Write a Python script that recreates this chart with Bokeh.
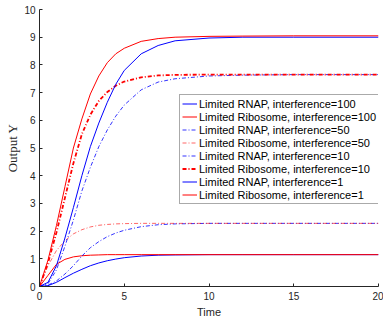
from bokeh.plotting import figure
from bokeh.models import Legend, LegendItem, FixedTicker, Range1d
from bokeh.embed import file_html
from bokeh.resources import INLINE

# time samples
t = [0, 0.5, 1, 1.5, 2, 2.5, 3, 3.5, 4, 4.5, 5, 6, 7, 8, 10, 12, 15, 20]

# interference = 100
rnap_100 = [0, 0.03, 0.15, 0.32, 0.48, 0.62, 0.75, 0.85, 0.93, 0.99, 1.04, 1.10, 1.13, 1.14, 1.15, 1.15, 1.15, 1.15]
ribo_100 = [0, 0.40, 0.80, 0.98, 1.07, 1.11, 1.13, 1.14, 1.15, 1.15, 1.15, 1.15, 1.15, 1.15, 1.15, 1.15, 1.15, 1.15]
# interference = 50
rnap_50 = [0, 0.05, 0.20, 0.45, 0.75, 1.10, 1.40, 1.62, 1.80, 1.93, 2.03, 2.16, 2.23, 2.26, 2.28, 2.28, 2.28, 2.28]
ribo_50 = [0, 0.75, 1.30, 1.65, 1.90, 2.05, 2.15, 2.21, 2.24, 2.26, 2.27, 2.28, 2.28, 2.28, 2.28, 2.28, 2.28, 2.28]
# interference = 10
rnap_10 = [0, 0.10, 0.60, 1.45, 2.40, 3.45, 4.30, 5.05, 5.65, 6.15, 6.55, 7.10, 7.38, 7.50, 7.60, 7.63, 7.65, 7.65]
ribo_10 = [0, 0.85, 1.95, 3.20, 4.45, 5.50, 6.20, 6.70, 7.02, 7.25, 7.40, 7.55, 7.62, 7.64, 7.65, 7.65, 7.65, 7.65]
# interference = 1
rnap_1 = [0, 0.15, 0.75, 1.75, 2.85, 4.00, 5.05, 5.90, 6.65, 7.30, 7.80, 8.40, 8.70, 8.87, 8.97, 9.00, 9.00, 9.00]
ribo_1 = [0, 0.95, 2.20, 3.60, 5.00, 6.05, 6.95, 7.60, 8.08, 8.40, 8.60, 8.85, 8.95, 9.00, 9.03, 9.04, 9.05, 9.05]

labels = [
    "Limited RNAP, interference=100",
    "Limited Ribosome, interference=100",
    "Limited RNAP, interference=50",
    "Limited Ribosome, interference=50",
    "Limited RNAP, interference=10",
    "Limited Ribosome, interference=10",
    "Limited RNAP, interference=1",
    "Limited Ribosome, interference=1",
]
x_ticks = [0, 5, 10, 15, 20]
y_ticks = [0, 1, 2, 3, 4, 5, 6, 7, 8, 9, 10]

p = figure(width=383, height=317, output_backend="svg", toolbar_location=None,
           x_range=Range1d(0, 20), y_range=Range1d(0, 10),
           min_border_left=39, min_border_right=5, min_border_top=5, min_border_bottom=35,
           styles={"margin-left": "0px", "margin-top": "4px"})
p.outline_line_color = None
p.grid.visible = False
p.background_fill_color = "white"
p.border_fill_color = "white"

ax_col = "#262626"
for ax in (p.xaxis, p.yaxis):
    ax.axis_line_color = ax_col
    ax.major_tick_line_color = ax_col
    ax.major_tick_in = 3
    ax.major_tick_out = 0
    ax.minor_tick_in = 0
    ax.minor_tick_out = 0
    ax.major_label_text_font = "Liberation Sans"
    ax.major_label_text_font_size = "10px"
    ax.major_label_text_color = ax_col
p.xaxis.ticker = FixedTicker(ticks=x_ticks)
p.yaxis.ticker = FixedTicker(ticks=y_ticks)
p.xaxis.major_label_standoff = 5
p.yaxis.major_label_standoff = 4
p.xaxis.axis_label = "Time"
p.xaxis.axis_label_text_font = "Liberation Sans"
p.xaxis.axis_label_text_font_size = "11px"
p.xaxis.axis_label_text_font_style = "normal"
p.xaxis.axis_label_text_color = ax_col
p.xaxis.axis_label_standoff = 3
p.yaxis.axis_label = "Output Y"
p.yaxis.axis_label_text_font = "Liberation Serif"
p.yaxis.axis_label_text_font_size = "13px"
p.yaxis.axis_label_text_font_style = "normal"
p.yaxis.axis_label_text_color = ax_col
p.yaxis.axis_label_standoff = 1

series = [
    (rnap_100, "blue", "solid", 1.0, 1.0),
    (ribo_100, "red", "solid", 1.0, 1.0),
    (rnap_50, "blue", "4 2 1 2", 1.0, 0.8),
    (ribo_50, "red", "4 2 1 2", 1.0, 0.6),
    (rnap_10, "blue", "4 2 1 2", 1.0, 0.8),
    (ribo_10, "red", "4 2 1 2", 1.8, 1.0),
    (rnap_1, "blue", "solid", 1.0, 1.0),
    (ribo_1, "red", "solid", 1.0, 1.0),
]
items = []
for (ys, col, dash, lw, alpha), lab in zip(series, labels):
    r = p.line(t, ys, line_color=col, line_dash=dash, line_width=lw, line_alpha=alpha)
    items.append(LegendItem(label=lab, renderers=[r]))

legend = Legend(items=items, location=(140, 82))
legend.label_text_font = "Liberation Sans"
legend.label_text_font_size = "11px"
legend.label_text_color = "black"
legend.label_height = 13
legend.glyph_height = 13
legend.glyph_width = 15
legend.label_standoff = 2
legend.spacing = 0
legend.padding = 2
legend.margin = 0
legend.border_line_color = "#555555"
legend.border_line_width = 1
legend.background_fill_color = "white"
legend.background_fill_alpha = 1.0
p.add_layout(legend, "center")

open("out.html", "w").write(file_html(p, INLINE))
